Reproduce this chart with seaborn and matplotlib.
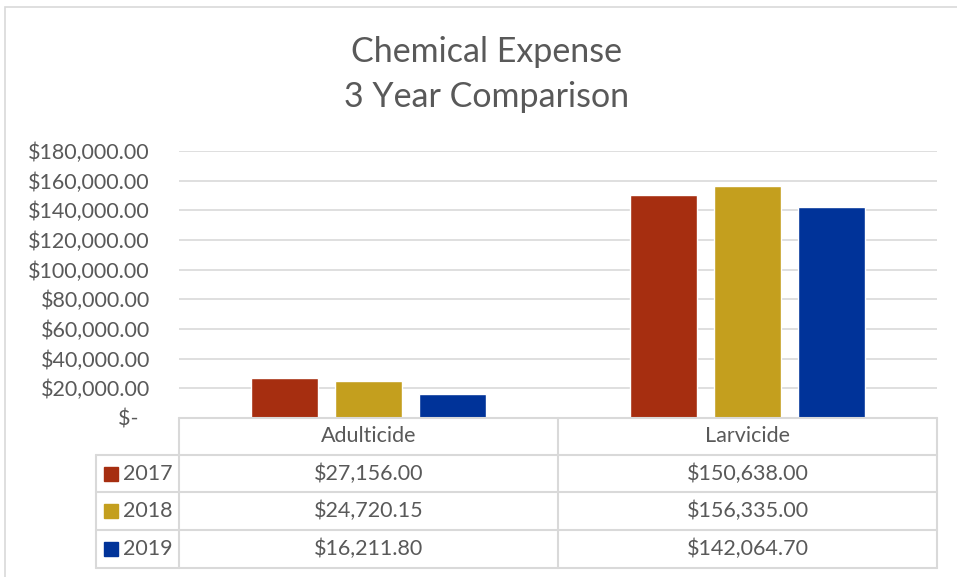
"""
Chemical Expense - 3 Year Comparison
棒グラフ + 下部にデータテーブル（Excel風）
"""

import pandas as pd
import matplotlib
matplotlib.use("Agg")
import matplotlib.pyplot as plt
from matplotlib.patches import Rectangle
import seaborn as sns

# データ
categories = ["Adulticide", "Larvicide"]
years = ["2017", "2018", "2019"]
values_2017 = [27156.00, 150638.00]
values_2018 = [24720.15, 156335.00]
values_2019 = [16211.80, 142064.70]
y_ticks = [0, 20000, 40000, 60000, 80000, 100000, 120000, 140000, 160000, 180000]

colors = ["#A62E10", "#C49F1E", "#003399"]
grid_color = "#D9D9D9"
text_color = "#595959"
FS = 15.5      # 目盛り・テーブルの文字サイズ
TITLE_FS = 24.5

df = pd.DataFrame({
    "category": categories * 3,
    "year": [y for y in years for _ in categories],
    "value": values_2017 + values_2018 + values_2019,
})

sns.set_theme(style="white")
plt.rcParams["font.family"] = ["Lato", "DejaVu Sans"]

W, H = 957, 577
fig = plt.figure(figsize=(W / 100, H / 100), dpi=100)

# 軸の位置（ピクセルから換算）
left, right, top, bottom = 179, 937, 151, 418
ax = fig.add_axes([left / W, 1 - bottom / H, (right - left) / W, (bottom - top) / H])

sns.barplot(data=df, x="category", y="value", hue="year", palette=colors,
            width=0.665, gap=0.2, ax=ax, legend=False, saturation=1)

ax.set_xlim(-0.5, 1.5)
ax.set_ylim(0, 180000)
ax.set_yticks(y_ticks)
ax.set_yticklabels([f"${v:,.2f}" if v else "$-  " for v in y_ticks],
                   fontsize=FS, color=text_color)
ax.set_xticks([])
ax.set_xlabel("")
ax.set_ylabel("")
ax.tick_params(axis="y", length=0, pad=21)
ax.grid(axis="y", color=grid_color, linewidth=1.2)
ax.set_axisbelow(True)
for s in ax.spines.values():
    s.set_visible(False)

# タイトル
fig.text(487 / W, 1 - 52 / H, "Chemical Expense", ha="center", va="center",
         fontsize=TITLE_FS, color=text_color)
fig.text(487 / W, 1 - 97 / H, "3 Year Comparison", ha="center", va="center",
         fontsize=TITLE_FS, color=text_color)

# データテーブル（ピクセル座標で描画）
def px(x, y):
    return x / W, 1 - y / H

def hline(y, x0, x1):
    fig.add_artist(plt.Line2D([x0 / W, x1 / W], [1 - y / H, 1 - y / H],
                              color=grid_color, linewidth=1.5))

def vline(x, y0, y1):
    fig.add_artist(plt.Line2D([x / W, x / W], [1 - y0 / H, 1 - y1 / H],
                              color=grid_color, linewidth=1.5))

row_y = [418, 455, 492, 530, 568]
key_x = 96
col_x = [left, 558, right]

hline(row_y[0], left, right)
for y in row_y[1:]:
    hline(y, key_x, right)
for x in col_x:
    vline(x, row_y[0], row_y[-1])
vline(key_x, row_y[1], row_y[-1])

# ヘッダー行（カテゴリ名）
for i, cat in enumerate(categories):
    cx = (col_x[i] + col_x[i + 1]) / 2
    fig.text(*px(cx, (row_y[0] + row_y[1]) / 2), cat, ha="center", va="center",
             fontsize=FS, color=text_color)

# 各年の行
series = [values_2017, values_2018, values_2019]
for r, (yr, vals, c) in enumerate(zip(years, series, colors)):
    cy = (row_y[r + 1] + row_y[r + 2]) / 2
    fig.add_artist(Rectangle(px(104, cy + 7), 14 / W, 14 / H,
                             transform=fig.transFigure, color=c))
    fig.text(*px(123, cy), yr, ha="left", va="center", fontsize=FS, color=text_color)
    for i, v in enumerate(vals):
        cx = (col_x[i] + col_x[i + 1]) / 2
        fig.text(*px(cx, cy), f"${v:,.2f}", ha="center", va="center",
                 fontsize=FS, color=text_color)

# グラフ外枠
fig.add_artist(Rectangle(px(5, H + 5), (W + 10) / W, (H - 2) / H,
                         transform=fig.transFigure, fill=False,
                         edgecolor=grid_color, linewidth=1.2))

fig.savefig("out.png", dpi=100)
